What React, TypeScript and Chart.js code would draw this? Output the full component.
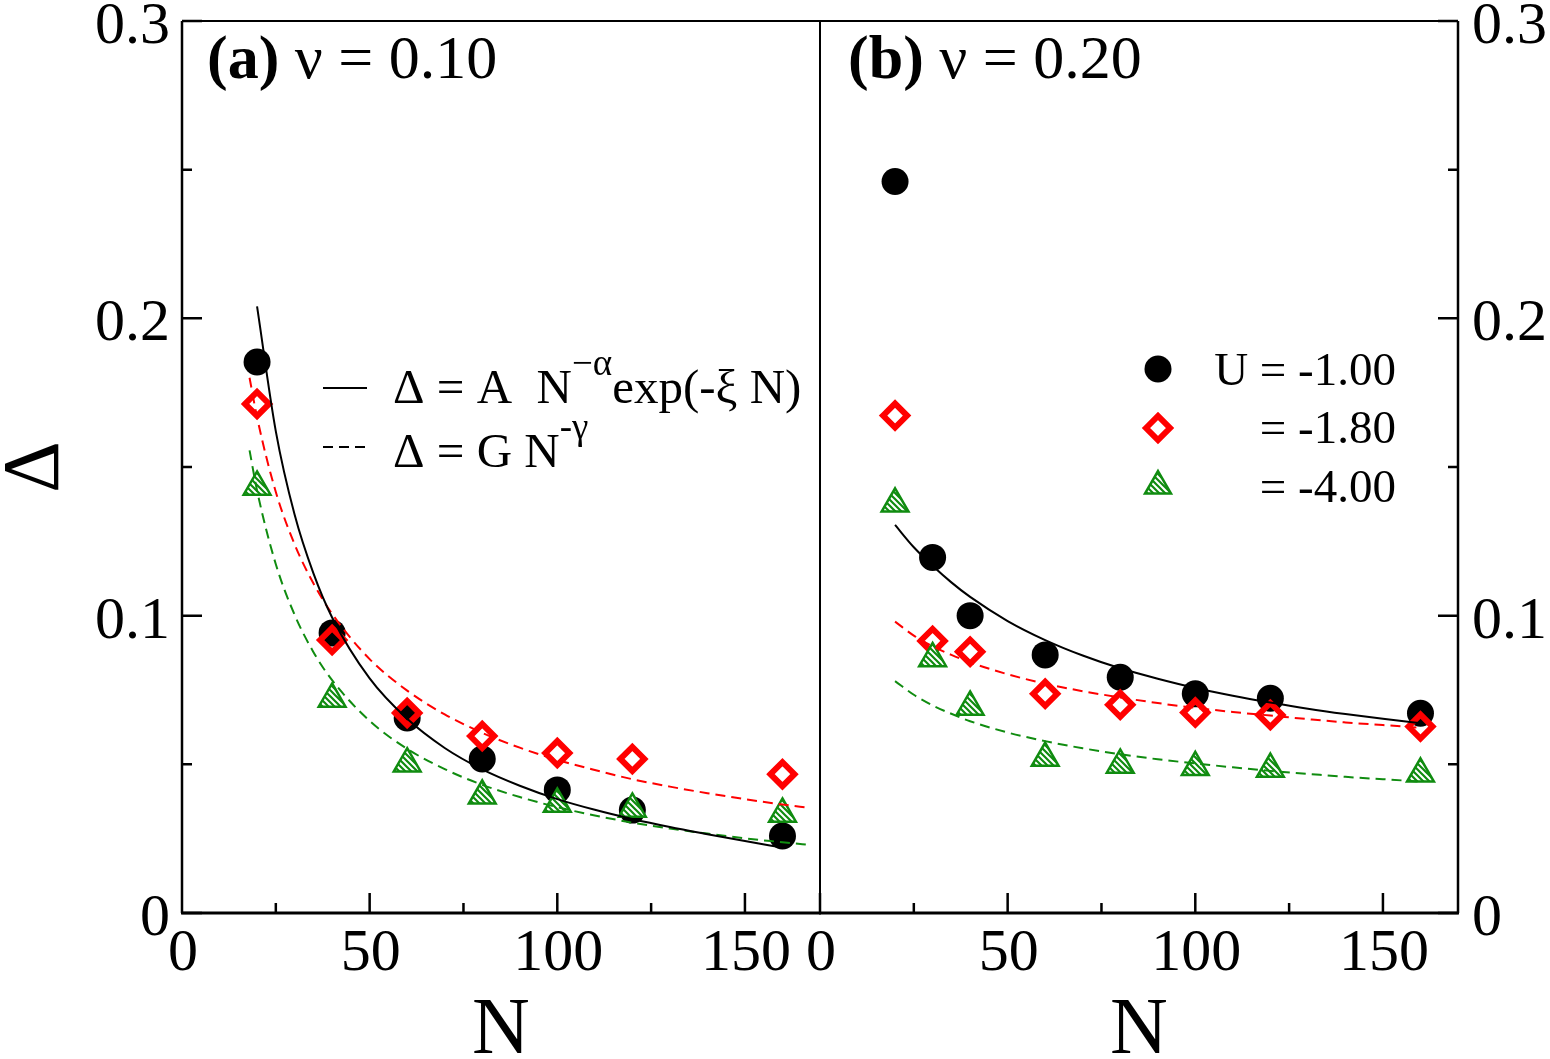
import React, { useEffect, useRef } from "react";
import { Chart, registerables } from "chart.js";

Chart.register(...registerables);

// ---- Panel (a): nu = 0.10 ----
const sizesA = [20, 40, 60, 80, 100, 120, 160];
const gapA_U100 = [0.1853, 0.0942, 0.0656, 0.0518, 0.0414, 0.0346, 0.0259];
const gapA_U180 = [0.1712, 0.0918, 0.0673, 0.0595, 0.0538, 0.0518, 0.0467];
const gapA_U400 = [0.1433, 0.072, 0.0502, 0.0394, 0.0367, 0.035, 0.0333];

// stretched-exponential fit, U = -1.00
const fitSizesA = [20, 25, 30, 35, 40, 50, 60, 70, 80, 90, 100, 110, 120, 130, 140, 150, 160];
const fitA_U100 = [0.204, 0.162, 0.134, 0.1143, 0.0994, 0.0789, 0.0653, 0.0555, 0.0483, 0.0428, 0.0383, 0.0347, 0.0316, 0.0289, 0.0265, 0.0242, 0.022];
// power-law fits, U = -1.80 and U = -4.00
const powSizesA = [18, 20, 25, 30, 35, 40, 50, 60, 70, 80, 90, 100, 110, 120, 130, 140, 150, 160, 167];
const powA_U180 = [0.18, 0.1667, 0.1416, 0.124, 0.1109, 0.1006, 0.0854, 0.0748, 0.0668, 0.0606, 0.0556, 0.0515, 0.0481, 0.045, 0.0425, 0.0403, 0.0383, 0.0365, 0.0354];
const powA_U400 = [0.1556, 0.1421, 0.1173, 0.1003, 0.0878, 0.0783, 0.0646, 0.0552, 0.0484, 0.0431, 0.039, 0.0356, 0.0328, 0.0304, 0.0284, 0.0267, 0.0251, 0.0238, 0.0229];

// ---- Panel (b): nu = 0.20 ----
const sizesB = [20, 30, 40, 60, 80, 100, 120, 160];
const gapB_U100 = [0.246, 0.1196, 0.1, 0.0868, 0.0793, 0.0737, 0.0722, 0.0672];
const gapB_U180 = [0.1673, 0.0915, 0.0879, 0.0737, 0.07, 0.0674, 0.0666, 0.0627];
const gapB_U400 = [0.1376, 0.0856, 0.0693, 0.0521, 0.0498, 0.049, 0.0484, 0.0468];

const fitSizesB = [20, 25, 30, 35, 40, 50, 60, 70, 80, 90, 100, 110, 120, 130, 140, 150, 160];
const fitB_U100 = [0.1305, 0.123, 0.1168, 0.1112, 0.1063, 0.0982, 0.0918, 0.0866, 0.0823, 0.0788, 0.0757, 0.0731, 0.0708, 0.0687, 0.0669, 0.0653, 0.0638];
const powB_U180 = [0.098, 0.0933, 0.0897, 0.0868, 0.0843, 0.0803, 0.0771, 0.0746, 0.0725, 0.0706, 0.069, 0.0676, 0.0664, 0.0652, 0.0641, 0.0632, 0.0623];
const powB_U400 = [0.078, 0.0734, 0.0698, 0.067, 0.0645, 0.0607, 0.0578, 0.0554, 0.0534, 0.0517, 0.0503, 0.049, 0.0478, 0.0468, 0.0458, 0.045, 0.0442];

// ---- Axes ----
const yMajor = [0, 0.1, 0.2, 0.3];
const yMinor = [0.05, 0.15, 0.25];
const yTickLabels = ["0", "0.1", "0.2", "0.3"];
const xMajor = [0, 50, 100, 150];
const xMinor = [25, 75, 125];
const xTickLabels = ["0", "50", "100", "150"];
const legendLabels = ["U = -1.00", "= -1.80", "= -4.00"];

const SERIF = '"Liberation Serif", "Times New Roman", serif';
const RED = "#ff0000";
const GREEN = "#108c10";

const zip = (xs: number[], ys: number[]) => xs.map((x, i) => ({ x, y: ys[i] }));

function makeHatch(color: string): CanvasPattern | string {
  const c = document.createElement("canvas");
  c.width = 6;
  c.height = 6;
  const g = c.getContext("2d");
  if (!g) return color;
  g.fillStyle = "#fff";
  g.fillRect(0, 0, 6, 6);
  g.strokeStyle = color;
  g.lineWidth = 2.2;
  g.beginPath();
  g.moveTo(-1, -1);
  g.lineTo(7, 7);
  g.moveTo(-1, 5);
  g.lineTo(7, 13);
  g.moveTo(5, -1);
  g.lineTo(13, 7);
  g.stroke();
  return g.createPattern(c, "repeat") || color;
}

function circle(ctx: CanvasRenderingContext2D, x: number, y: number, r: number) {
  ctx.beginPath();
  ctx.arc(x, y, r, 0, Math.PI * 2);
  ctx.fillStyle = "#000";
  ctx.fill();
}
function diamond(ctx: CanvasRenderingContext2D, x: number, y: number, r: number) {
  ctx.beginPath();
  ctx.moveTo(x - r, y);
  ctx.lineTo(x, y - r);
  ctx.lineTo(x + r, y);
  ctx.lineTo(x, y + r);
  ctx.closePath();
  ctx.strokeStyle = RED;
  ctx.lineWidth = 6;
  ctx.stroke();
}
function triangle(ctx: CanvasRenderingContext2D, x: number, y: number, r: number, fill: any) {
  const s = Math.sin((2 * Math.PI) / 3) * r;
  ctx.beginPath();
  ctx.moveTo(x, y - r);
  ctx.lineTo(x + s, y + r / 2);
  ctx.lineTo(x - s, y + r / 2);
  ctx.closePath();
  ctx.fillStyle = fill;
  ctx.fill();
  ctx.strokeStyle = GREEN;
  ctx.lineWidth = 2.5;
  ctx.stroke();
}

// draws a run of text pieces left to right; each piece = [text, font, baseline offset]
function drawRun(ctx: CanvasRenderingContext2D, x: number, y: number, pieces: [string, string, number][]) {
  let cx = x;
  pieces.forEach(([t, f, dy]) => {
    ctx.font = f;
    ctx.fillText(t, cx, y + dy);
    cx += ctx.measureText(t).width;
  });
}

function makeFrame(panel: "a" | "b", hatch: any) {
  return {
    id: "frame" + panel,
    afterDraw(chart: any) {
      const { ctx, chartArea: ca, scales } = chart;
      const xs = scales.x;
      const ys = scales.y;
      const isA = panel === "a";
      ctx.save();
      ctx.strokeStyle = "#000";
      ctx.fillStyle = "#000";

      // plot box
      ctx.lineWidth = 2;
      ctx.beginPath();
      ctx.moveTo(ca.left, ca.top);
      ctx.lineTo(ca.right, ca.top);
      ctx.moveTo(ca.left, ca.top);
      ctx.lineTo(ca.left, ca.bottom);
      ctx.moveTo(ca.right, ca.top);
      ctx.lineTo(ca.right, ca.bottom);
      ctx.stroke();
      ctx.lineWidth = 3;
      ctx.beginPath();
      ctx.moveTo(ca.left - 1, ca.bottom);
      ctx.lineTo(ca.right + 1, ca.bottom);
      ctx.stroke();

      // value axis with inward ticks
      const ax = isA ? ca.left : ca.right;
      const dir = isA ? 1 : -1;
      ctx.lineWidth = 2.5;
      ctx.beginPath();
      ctx.moveTo(ax, ca.top);
      ctx.lineTo(ax, ca.bottom);
      yMajor.forEach((v) => {
        const py = ys.getPixelForValue(v);
        ctx.moveTo(ax, py);
        ctx.lineTo(ax + dir * 20, py);
      });
      yMinor.forEach((v) => {
        const py = ys.getPixelForValue(v);
        ctx.moveTo(ax, py);
        ctx.lineTo(ax + dir * 10, py);
      });
      xMajor.forEach((v) => {
        const px = xs.getPixelForValue(v);
        ctx.moveTo(px, ca.bottom);
        ctx.lineTo(px, ca.bottom - 20);
      });
      xMinor.forEach((v) => {
        const px = xs.getPixelForValue(v);
        ctx.moveTo(px, ca.bottom);
        ctx.lineTo(px, ca.bottom - 10);
      });
      ctx.stroke();

      // tick labels
      ctx.font = `60px ${SERIF}`;
      ctx.textBaseline = "alphabetic";
      ctx.textAlign = isA ? "right" : "left";
      yMajor.forEach((v, i) => {
        const py = ys.getPixelForValue(v);
        ctx.fillText(yTickLabels[i], isA ? ax - 12 : ax + 14, py + 22);
      });
      ctx.textAlign = "center";
      xMajor.forEach((v, i) => {
        const px = xs.getPixelForValue(v);
        ctx.fillText(xTickLabels[i], px + 1, 970);
      });

      // axis titles
      ctx.font = `80px ${SERIF}`;
      ctx.fillText("N", (ca.left + ca.right) / 2, 1053);
      if (isA) {
        ctx.save();
        ctx.translate(58, (ca.top + ca.bottom) / 2);
        ctx.rotate(-Math.PI / 2);
        ctx.textAlign = "center";
        ctx.fillText("Δ", 0, 0);
        ctx.restore();
      }

      // panel title
      ctx.textAlign = "left";
      drawRun(ctx, isA ? 207 : 848, 78, [
        [isA ? "(a)" : "(b)", `bold 62px ${SERIF}`, 0],
        [isA ? " ν = 0.10" : " ν = 0.20", `62px ${SERIF}`, 0],
      ]);

      if (isA) {
        // fit-function legend
        ctx.lineWidth = 2;
        ctx.beginPath();
        ctx.moveTo(323, 388);
        ctx.lineTo(367, 388);
        ctx.stroke();
        ctx.setLineDash([10, 6]);
        ctx.beginPath();
        ctx.moveTo(323, 447);
        ctx.lineTo(367, 447);
        ctx.stroke();
        ctx.setLineDash([]);
        const big = `49px ${SERIF}`;
        const sup = `37px ${SERIF}`;
        drawRun(ctx, 393, 403, [
          ["Δ = A  N", big, 0],
          ["−α", sup, -28],
          ["exp(-ξ N)", big, 0],
        ]);
        drawRun(ctx, 393, 467, [
          ["Δ = G N", big, 0],
          ["-γ", sup, -28],
        ]);
      } else {
        // symbol legend
        circle(ctx, 1158, 369, 13.5);
        diamond(ctx, 1158, 428, 12);
        triangle(ctx, 1158, 486, 15, hatch);
        ctx.fillStyle = "#000";
        ctx.font = `47px ${SERIF}`;
        ctx.textAlign = "right";
        ctx.fillText(legendLabels[0], 1396, 385);
        ctx.fillText(legendLabels[1], 1396, 443);
        ctx.fillText(legendLabels[2], 1396, 502);
      }
      ctx.restore();
    },
  };
}

function buildConfig(panel: "a" | "b", hatch: any): any {
  const isA = panel === "a";
  const n = isA ? sizesA : sizesB;
  const curveLine = (xs: number[], ys: number[], color: string, dashed: boolean, order: number) => ({
    data: zip(xs, ys),
    showLine: true,
    pointRadius: 0,
    borderColor: color,
    borderWidth: 2,
    borderDash: dashed ? [10, 6] : [],
    cubicInterpolationMode: "monotone",
    fill: false,
    order,
  });
  const datasets = [
    curveLine(isA ? fitSizesA : fitSizesB, isA ? fitA_U100 : fitB_U100, "#000", false, 1),
    curveLine(isA ? powSizesA : fitSizesB, isA ? powA_U180 : powB_U180, RED, true, 2),
    curveLine(isA ? powSizesA : fitSizesB, isA ? powA_U400 : powB_U400, GREEN, true, 3),
    {
      label: "U = -4.00",
      data: zip(n, isA ? gapA_U400 : gapB_U400),
      pointStyle: "triangle",
      pointRadius: 15.5,
      pointBorderWidth: 2.5,
      borderColor: GREEN,
      backgroundColor: hatch,
      order: 4,
    },
    {
      label: "U = -1.80",
      data: zip(n, isA ? gapA_U180 : gapB_U180),
      pointStyle: "rectRot",
      pointRadius: 12,
      pointBorderWidth: 6,
      borderColor: RED,
      backgroundColor: "rgba(0,0,0,0)",
      order: 5,
    },
    {
      label: "U = -1.00",
      data: zip(n, isA ? gapA_U100 : gapB_U100),
      pointStyle: "circle",
      pointRadius: 13.5,
      pointBorderWidth: 0,
      borderColor: "#000",
      backgroundColor: "#000",
      order: 6,
    },
  ];
  return {
    type: "scatter",
    data: { datasets },
    options: {
      responsive: false,
      animation: false,
      events: [],
      layout: {
        padding: isA
          ? { left: 182, right: 730, top: 21, bottom: 146 }
          : { left: 820, right: 92, top: 21, bottom: 146 },
      },
      scales: {
        x: { type: "linear", min: 0, max: 170, display: false },
        y: { type: "linear", min: 0, max: 0.3, display: false },
      },
      plugins: { legend: { display: false }, tooltip: { enabled: false } },
    },
    plugins: [makeFrame(panel, hatch)],
  };
}

export default function App() {
  const refA = useRef<HTMLCanvasElement>(null);
  const refB = useRef<HTMLCanvasElement>(null);

  useEffect(() => {
    const hatch = makeHatch(GREEN);
    const a = new Chart(refA.current as HTMLCanvasElement, buildConfig("a", hatch));
    const b = new Chart(refB.current as HTMLCanvasElement, buildConfig("b", hatch));
    return () => {
      a.destroy();
      b.destroy();
    };
  }, []);

  const canvasStyle: React.CSSProperties = { position: "absolute", left: 0, top: 0, width: 1550, height: 1059 };
  return (
    <div style={{ position: "fixed", left: 0, top: 0, width: 1550, height: 1059, background: "#fff" }}>
      <canvas ref={refA} width={1550} height={1059} style={canvasStyle} />
      <canvas ref={refB} width={1550} height={1059} style={canvasStyle} />
    </div>
  );
}
